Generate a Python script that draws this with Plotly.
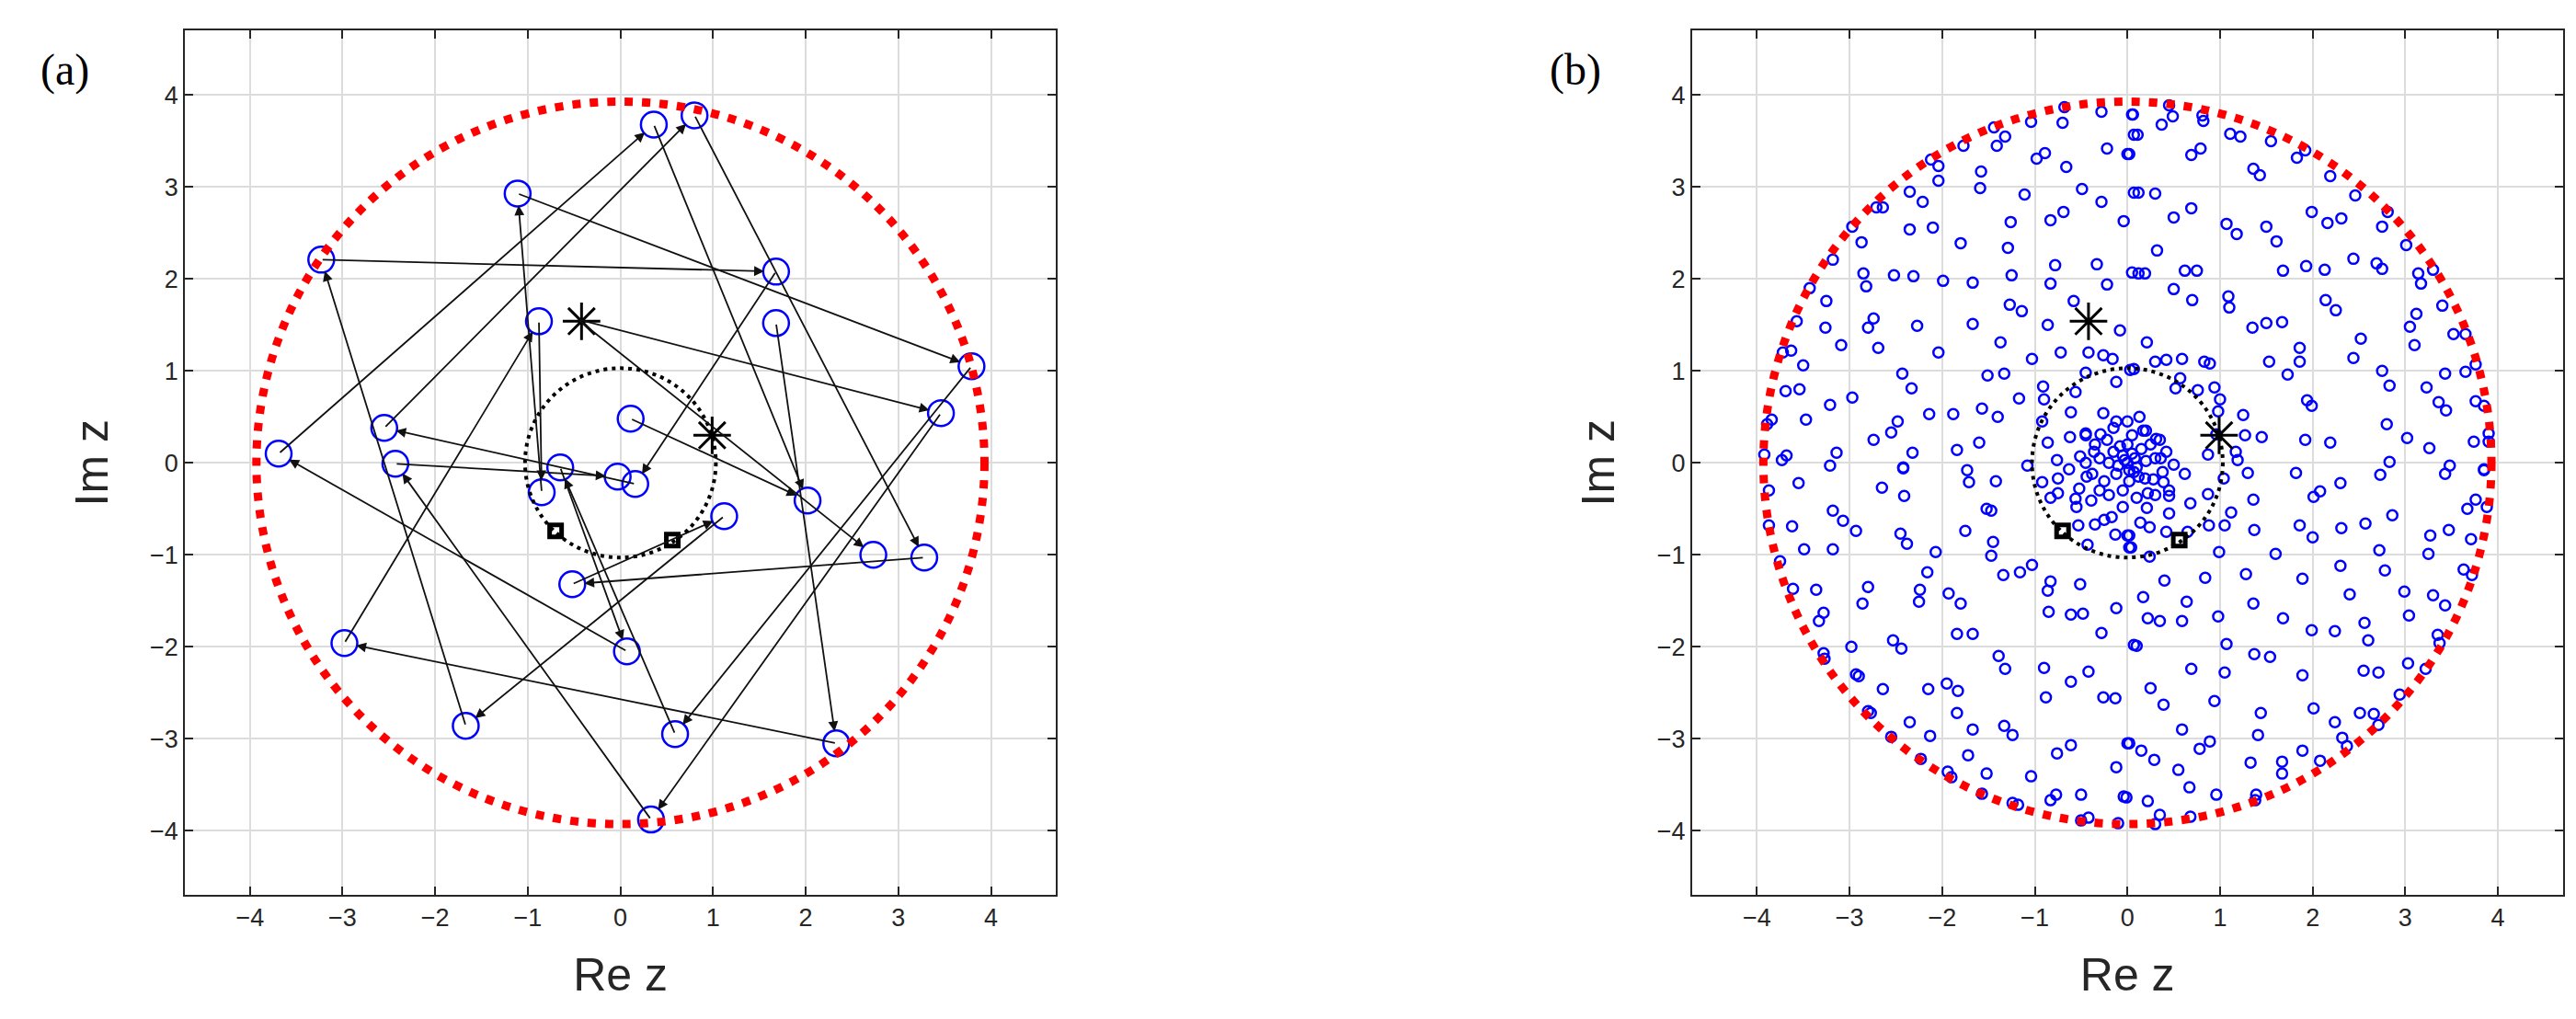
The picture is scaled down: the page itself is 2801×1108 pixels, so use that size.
import plotly.graph_objects as go

# ---- panel (a): orbit points (circles) ----
a_x = [-1.11, -3.23, -0.88, -2.55, -3.69, -2.43, -0.65, -0.85, 0.36, 0.80, 1.68, 1.68, 3.79, 3.46,
       0.11, -0.03, 0.16, 2.02, 1.12, 2.73, 3.28, -0.52, 0.07, -2.98, -1.67, 0.59, 2.33, 0.33]
a_y = [2.93, 2.21, 1.54, 0.38, 0.10, -0.01, -0.05, -0.32, 3.68, 3.78, 2.08, 1.52, 1.05, 0.54,
       0.48, -0.15, -0.23, -0.41, -0.58, -1.00, -1.03, -1.32, -2.05, -1.96, -2.86, -2.95, -3.05, -3.88]

# arrows (from -> to)
arr_x0 = [-1.11, -3.23, -3.69, -2.55, 0.36, 0.80, -0.46, 1.68, 1.12, -2.98, 3.28, 2.33, 3.79, 3.46,
          1.68, 0.11, -1.67, -0.85, -0.88, -2.43, 0.07, 0.33, -0.65, 0.59, -0.52, 0.16, -0.46]
arr_y0 = [2.93, 2.21, 0.10, 0.38, 3.68, 3.78, 1.56, 2.08, -0.58, -1.96, -1.03, -3.05, 1.05, 0.54,
          1.52, 0.48, -2.86, -0.32, 1.54, -0.01, -2.05, -3.88, -0.05, -2.95, -1.32, -0.23, 1.56]
arr_x1 = [3.79, 1.68, 0.36, 0.80, 2.02, 3.28, 3.46, 0.16, -1.67, -0.88, -0.52, -2.98, 0.59, 0.33,
          2.33, 2.02, -3.23, -1.11, -0.85, -0.03, -3.69, -2.43, 0.07, -0.65, 1.12, -2.55, 2.73]
arr_y1 = [1.05, 2.08, 3.68, 3.78, -0.41, -1.03, 0.54, -0.23, -2.86, 1.54, -1.32, -1.96, -2.95, -3.88,
          -3.05, -0.41, 2.21, 2.93, -0.32, -0.15, 0.10, -0.01, -2.05, -0.05, -0.58, 0.38, -1.00]

# fixed points / special points (both panels)
star_x = [-0.42, 0.99]
star_y = [1.54, 0.30]
sq_x = [-0.70, 0.56]
sq_y = [-0.74, -0.84]

R_OUT = 3.93
R_IN = 1.03

# ---- panel (b): scattered points ----
b_pts = [
    (-0.68, 3.87), (-0.70, 3.70), (-1.04, 3.71), (-1.32, 3.55), (-1.41, 3.45), (-1.44, 3.65), (-1.77, 3.45),
    (-2.04, 3.23), (-2.12, 3.30), (-2.04, 3.07), (-1.58, 3.17), (-1.59, 2.99), (-0.98, 3.31), (-0.89, 3.37),
    (-0.66, 3.22), (-0.28, 3.82), (-0.22, 3.42), (0.00, 3.36), (0.05, 3.79), (0.07, 3.57), (-0.49, 2.98),
    (-0.28, 2.84), (-1.11, 2.92), (-0.83, 2.64), (-0.69, 2.73), (-0.04, 2.63), (0.07, 2.94), (-1.26, 2.62),
    (-1.29, 2.34), (-1.80, 2.39), (-2.35, 2.95), (-2.21, 2.84), (-2.35, 2.54), (-2.10, 2.56), (-2.87, 2.40),
    (-2.71, 2.78), (-2.64, 2.78), (-2.97, 2.57), (-3.18, 2.21), (-3.43, 1.90), (-3.25, 1.76), (-2.85, 2.06),
    (-2.82, 1.92), (-2.52, 2.04), (-2.31, 2.03), (-1.99, 1.98), (-1.67, 1.96), (-1.25, 2.04), (-0.83, 1.95),
    (-0.78, 2.15), (-0.33, 2.16), (-0.22, 1.94), (0.05, 2.07), (-0.58, 1.76), (-1.27, 1.72), (-1.14, 1.65),
    (-0.86, 1.50), (-0.08, 1.44), (-1.67, 1.51), (-2.27, 1.49), (-2.74, 1.57), (-2.80, 1.47), (-3.26, 1.47),
    (-3.57, 1.54), (-3.09, 1.28), (-2.69, 1.25), (-2.04, 1.20), (-1.37, 1.31), (-1.03, 1.13), (-0.72, 1.20),
    (-0.42, 1.20), (-0.26, 1.17), (-0.16, 1.13), (-0.45, 0.98), (-0.12, 0.88), (0.03, 1.01), (-3.63, 1.22),
    (-3.72, 1.20), (-3.50, 1.06), (-2.43, 0.97), (-2.33, 0.81), (-1.51, 0.95), (-1.33, 0.97), (-3.69, 0.78),
    (-3.54, 0.80), (-2.97, 0.71), (-3.21, 0.63), (-3.47, 0.47), (-3.84, 0.47), (-3.89, 0.42), (-0.91, 0.83),
    (-0.90, 0.69), (-0.56, 0.77), (-1.17, 0.70), (-1.57, 0.59), (-1.40, 0.50), (-1.88, 0.53), (-2.14, 0.53),
    (-2.48, 0.45), (-2.55, 0.33), (-2.74, 0.25), (-1.84, 0.14), (-1.60, 0.22), (-0.92, 0.45), (-0.86, 0.22),
    (-0.61, 0.55), (-0.26, 0.54), (-0.12, 0.45), (-0.62, 0.28), (-0.45, 0.32), (-0.29, 0.31), (-2.32, 0.11),
    (-3.14, 0.11), (-3.21, -0.03), (-3.68, 0.08), (-3.73, 0.03), (-3.92, 0.09), (-2.42, -0.05), (-1.73, -0.08),
    (-1.08, -0.03), (-0.76, 0.03), (-0.51, 0.07), (-0.36, 0.12),
    (0.06, 3.79), (0.45, 3.89), (0.49, 3.77), (0.37, 3.68), (0.81, 3.78), (0.82, 3.72), (0.11, 3.57),
    (0.02, 3.36), (0.69, 3.35), (0.79, 3.42), (1.11, 3.58), (1.22, 3.55), (1.55, 3.50), (1.83, 3.32),
    (1.92, 3.40), (1.36, 3.20), (1.43, 3.13), (2.19, 3.12), (2.46, 2.91), (2.81, 2.73), (2.75, 2.57),
    (3.01, 2.37), (0.12, 2.94), (0.30, 2.93), (0.50, 2.67), (0.69, 2.77), (1.07, 2.60), (1.18, 2.49),
    (1.50, 2.57), (1.61, 2.41), (1.99, 2.73), (2.16, 2.61), (2.31, 2.66), (0.32, 2.31), (2.44, 2.22),
    (2.69, 2.17), (2.75, 2.11), (1.93, 2.14), (2.13, 2.10), (1.68, 2.09), (3.14, 2.06), (3.30, 2.10),
    (3.17, 1.95), (0.12, 2.06), (0.19, 2.06), (0.62, 2.09), (0.75, 2.09), (0.50, 1.89), (0.70, 1.77),
    (1.09, 1.81), (1.10, 1.69), (2.14, 1.77), (2.25, 1.66), (3.40, 1.71), (3.12, 1.62), (3.05, 1.48),
    (3.52, 1.40), (3.65, 1.40), (3.10, 1.28), (2.52, 1.35), (1.35, 1.47), (1.50, 1.52), (1.67, 1.53),
    (1.86, 1.25), (1.86, 1.10), (1.53, 1.10), (2.44, 1.14), (1.73, 0.96), (0.21, 1.31), (0.30, 1.10),
    (0.42, 1.12), (0.59, 1.13), (0.83, 1.10), (0.89, 1.08), (0.07, 1.02), (0.57, 0.92), (0.52, 0.81),
    (0.76, 0.79), (0.94, 0.82), (1.00, 0.69), (0.98, 0.56), (1.25, 0.52), (1.94, 0.68), (1.99, 0.62),
    (2.75, 1.00), (2.83, 0.84), (3.23, 0.82), (3.43, 0.97), (3.65, 0.99), (3.76, 1.07), (3.36, 0.66),
    (3.44, 0.57), (3.76, 0.67), (3.85, 0.62), (2.80, 0.42), (3.02, 0.27), (3.26, 0.16), (3.74, 0.23),
    (3.90, 0.32), (3.90, 0.23), (1.27, 0.30), (1.45, 0.28), (1.92, 0.25), (2.19, 0.22), (0.13, 0.50),
    (0.17, 0.35), (0.31, 0.26), (0.36, 0.05), (0.50, -0.02), (0.87, 0.09), (1.17, 0.12), (1.19, 0.03),
    (0.96, 0.31), (2.83, 0.01), (3.48, -0.03), (3.85, -0.07),
    (-3.87, -0.30), (-3.87, -0.68), (-3.55, -0.22), (-2.65, -0.27), (-2.41, -0.36), (-2.42, -0.06),
    (-1.71, -0.21), (-1.42, -0.20), (-0.92, -0.21), (-0.75, -0.17), (-0.63, -0.07), (-0.44, -0.15),
    (-0.83, -0.38), (-0.75, -0.33), (-0.56, -0.39), (-0.55, -0.48), (-0.52, -0.28), (-0.39, -0.41),
    (-0.05, -0.48), (-0.13, -0.78), (0.00, -0.79), (0.02, -0.92), (-0.17, -0.59), (-0.25, -0.62),
    (-0.35, -0.67), (-0.53, -0.68), (-0.43, -0.89), (-1.52, -0.50), (-1.47, -0.52), (-1.75, -0.74),
    (-1.45, -0.86), (-1.47, -1.01), (-2.07, -0.97), (-2.45, -0.77), (-2.38, -0.88), (-2.93, -0.74),
    (-3.07, -0.63), (-3.18, -0.52), (-3.62, -0.69), (-3.49, -0.94), (-3.18, -0.94), (-3.75, -1.07),
    (-1.34, -1.22), (-1.16, -1.19), (-1.03, -1.11), (-0.83, -1.29), (-0.86, -1.39), (-0.51, -1.32),
    (-2.16, -1.19), (-2.24, -1.38), (-2.25, -1.51), (-2.80, -1.35), (-2.86, -1.53), (-1.93, -1.42),
    (-1.80, -1.53), (-3.36, -1.38), (-3.61, -1.37), (-3.28, -1.63), (-3.33, -1.72), (-0.85, -1.62),
    (-0.61, -1.65), (-0.48, -1.64), (-0.12, -1.58), (-0.28, -1.85), (0.07, -1.98), (-1.84, -1.86),
    (-1.67, -1.86), (-2.53, -1.93), (-2.44, -2.02), (-2.98, -2.00), (-3.28, -2.07), (-3.27, -2.13),
    (-2.93, -2.30), (-2.90, -2.32), (-1.39, -2.10), (-1.32, -2.24), (-0.90, -2.23), (-0.61, -2.38),
    (-0.42, -2.27), (-0.88, -2.55), (-0.26, -2.55), (-0.13, -2.56), (-2.64, -2.46), (-2.15, -2.46),
    (-1.95, -2.40), (-1.83, -2.48), (-1.84, -2.72), (-1.67, -2.90), (-1.33, -2.86), (-1.24, -2.96),
    (-2.80, -2.70), (-2.77, -2.72), (-2.35, -2.82), (-2.13, -2.97), (-2.55, -2.98), (-2.23, -3.22),
    (-1.72, -3.18), (-1.52, -3.38), (-1.04, -3.41), (-0.76, -3.16), (-0.61, -3.07), (0.00, -3.05),
    (-0.12, -3.31), (-1.94, -3.36), (-1.90, -3.42), (-1.57, -3.60), (-1.24, -3.70), (-1.18, -3.72),
    (-0.83, -3.67), (-0.77, -3.61), (-0.50, -3.61), (-0.42, -3.86), (-0.50, -3.89), (-0.10, -3.92),
    (-0.04, -3.63),
    (0.02, -0.08), (0.19, -0.17), (0.39, -0.21), (0.62, -0.12), (1.04, -0.17), (1.30, -0.11), (1.82, -0.11),
    (2.73, -0.13), (3.43, -0.12), (3.85, -0.08), (0.22, -0.33), (0.45, -0.36), (0.21, -0.49), (0.45, -0.55),
    (0.68, -0.44), (0.87, -0.34), (1.12, -0.54), (1.36, -0.40), (0.14, -0.65), (0.24, -0.70), (0.42, -0.75),
    (0.65, -0.75), (0.88, -0.68), (1.05, -0.68), (1.37, -0.73), (1.86, -0.68), (2.00, -0.81), (2.31, -0.71),
    (2.57, -0.66), (2.86, -0.57), (2.01, -0.37), (2.08, -0.31), (2.30, -0.22), (0.02, -0.79), (0.04, -0.92),
    (0.24, -1.02), (0.99, -0.97), (1.60, -0.99), (2.72, -0.95), (3.25, -0.99), (3.27, -0.79), (3.47, -0.73),
    (3.71, -0.83), (3.67, -0.50), (3.76, -0.40), (3.88, -0.48), (0.40, -1.28), (0.84, -1.25), (1.28, -1.21),
    (1.89, -1.26), (2.30, -1.12), (2.78, -1.17), (3.63, -1.16), (3.72, -1.22), (0.17, -1.46), (0.64, -1.51),
    (1.36, -1.53), (2.40, -1.43), (2.99, -1.40), (3.30, -1.44), (3.43, -1.55), (3.04, -1.66), (0.22, -1.69),
    (0.35, -1.72), (0.59, -1.72), (0.98, -1.67), (1.68, -1.69), (1.99, -1.82), (2.24, -1.83), (2.56, -1.74),
    (2.60, -1.93), (3.35, -1.87), (3.37, -1.96), (0.10, -1.99), (1.07, -1.97), (1.37, -2.08), (1.54, -2.11),
    (0.69, -2.24), (1.05, -2.28), (1.89, -2.31), (2.55, -2.26), (2.71, -2.28), (3.03, -2.18), (3.22, -2.24),
    (0.25, -2.45), (0.39, -2.63), (0.94, -2.59), (1.44, -2.72), (2.01, -2.67), (2.51, -2.72), (2.66, -2.73),
    (2.24, -2.82), (2.71, -2.85), (2.94, -2.52), (0.59, -2.90), (1.41, -2.96), (2.32, -2.99), (2.37, -3.08),
    (1.89, -3.13), (0.02, -3.05), (0.15, -3.13), (0.29, -3.23), (0.78, -3.11), (0.89, -3.03), (1.33, -3.26),
    (1.67, -3.25), (1.67, -3.38), (2.08, -3.24), (0.55, -3.34), (0.67, -3.53), (0.96, -3.61), (1.39, -3.61),
    (1.38, -3.67), (-0.01, -3.64), (0.22, -3.68), (0.35, -3.83), (0.30, -3.93), (0.68, -3.85),
    # dense cluster around the origin
    (0.00, 0.00), (0.05, 0.10), (-0.05, 0.08), (0.10, -0.05), (-0.10, -0.03), (0.15, 0.15), (-0.15, 0.12),
    (0.12, -0.15), (-0.12, -0.12), (0.20, 0.02), (-0.20, 0.00), (0.00, 0.20), (0.02, -0.20), (0.25, 0.20),
    (-0.22, 0.25), (0.28, -0.18), (-0.25, -0.20), (0.30, 0.05), (-0.30, 0.05), (0.05, 0.30), (-0.05, -0.30),
    (0.35, 0.25), (-0.35, 0.20), (0.20, 0.35), (-0.15, 0.38), (0.38, -0.10), (-0.38, -0.12), (0.10, -0.38),
    (-0.20, -0.35), (0.42, 0.12), (-0.45, 0.00), (0.00, 0.45), (0.30, -0.35), (-0.30, -0.30), (0.45, -0.30),
    (-0.45, 0.30), (0.08, 0.05), (-0.03, 0.03), (0.07, -0.10), (-0.08, 0.18),
]
b_x = [p[0] for p in b_pts]
b_y = [p[1] for p in b_pts]

ticks = [-4, -3, -2, -1, 0, 1, 2, 3, 4]

fig = go.Figure()

# panel (a)
fig.add_trace(go.Scatter(x=a_x, y=a_y, mode="markers", xaxis="x", yaxis="y",
                         marker=dict(symbol="circle-open", size=28, color="#0000ff", line=dict(width=2.5))))
# panel (b)
fig.add_trace(go.Scatter(x=b_x, y=b_y, mode="markers", xaxis="x2", yaxis="y2",
                         marker=dict(symbol="circle-open", size=11, color="#0000ff", line=dict(width=2.5))))

for xa, ya in [("x", "y"), ("x2", "y2")]:
    fig.add_shape(type="circle", xref=xa, yref=ya, x0=-R_OUT, y0=-R_OUT, x1=R_OUT, y1=R_OUT,
                  line=dict(color="#ff0000", width=9, dash="9px,10px"), layer="above")
    fig.add_shape(type="circle", xref=xa, yref=ya, x0=-R_IN, y0=-R_IN, x1=R_IN, y1=R_IN,
                  line=dict(color="#000000", width=4, dash="4px,5px"), layer="above")
    fig.add_trace(go.Scatter(x=star_x, y=star_y, mode="markers", xaxis=xa, yaxis=ya,
                             marker=dict(symbol="asterisk-open", size=34, color="black", line=dict(width=3, color="black"))))
    fig.add_trace(go.Scatter(x=sq_x, y=sq_y, mode="markers", xaxis=xa, yaxis=ya,
                             marker=dict(symbol="square-open", size=13, color="black", line=dict(width=5, color="black"))))

for x0, y0, x1, y1 in zip(arr_x0, arr_y0, arr_x1, arr_y1):
    fig.add_annotation(x=x1, y=y1, ax=x0, ay=y0, xref="x", yref="y", axref="x", ayref="y",
                       text="", showarrow=True, arrowhead=2, arrowsize=1.2, arrowwidth=1.8,
                       arrowcolor="#111111", standoff=13)

axis_style = dict(range=[-4.7, 4.7], tickvals=ticks, showgrid=True, gridcolor="#dcdcdc", gridwidth=2,
                  zeroline=False, showline=True, linecolor="#262626", linewidth=2, mirror="ticks",
                  ticks="inside", ticklen=9, tickwidth=2, tickcolor="#262626",
                  tickfont=dict(family="Liberation Sans, Arial", size=27, color="#262626"))

fig.update_layout(
    width=2801, height=1108, margin=dict(l=0, r=0, t=0, b=0),
    paper_bgcolor="white", plot_bgcolor="white", showlegend=False,
    xaxis=dict(domain=[0.069, 0.407], anchor="y", title=dict(text="Re z", font=dict(size=50, color="#262626", family="Liberation Sans, Arial"), standoff=30), **axis_style),
    yaxis=dict(domain=[0.129, 0.977], anchor="x", title=dict(text="Im z", font=dict(size=50, color="#262626", family="Liberation Sans, Arial"), standoff=30), **axis_style),
    xaxis2=dict(domain=[0.654, 0.992], anchor="y2", title=dict(text="Re z", font=dict(size=50, color="#262626", family="Liberation Sans, Arial"), standoff=30), **axis_style),
    yaxis2=dict(domain=[0.129, 0.977], anchor="x2", title=dict(text="Im z", font=dict(size=50, color="#262626", family="Liberation Sans, Arial"), standoff=30), **axis_style),
)

for lbl, xp in [("(a)", 0.012), ("(b)", 0.598)]:
    fig.add_annotation(text=lbl, xref="paper", yref="paper", x=xp, y=0.965, xanchor="left", yanchor="top",
                       showarrow=False, font=dict(family="Liberation Serif, Times New Roman", size=48, color="black"))

fig.write_html("out.html")
